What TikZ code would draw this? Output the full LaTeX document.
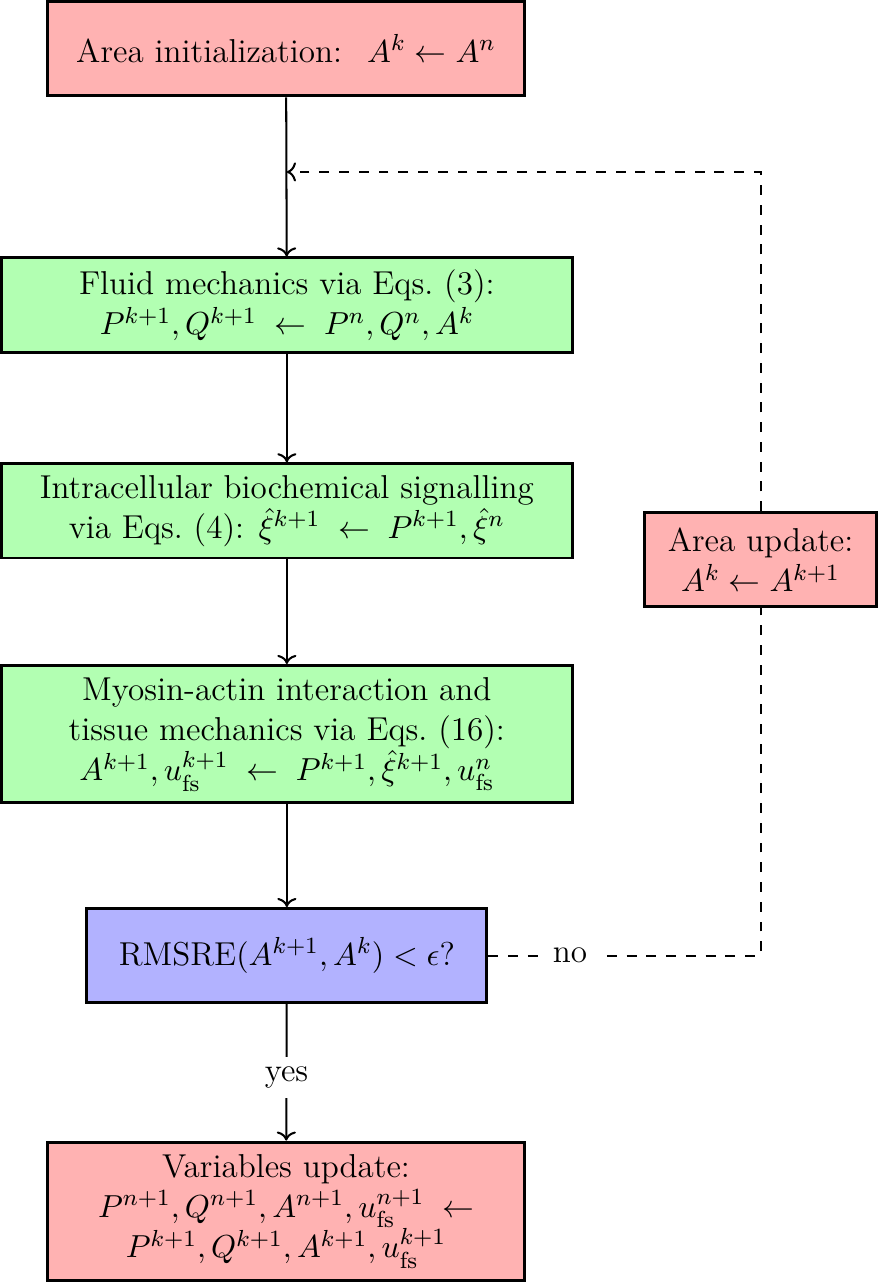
\documentclass[tikz,border=0pt]{standalone}
\usepackage{tikz}
\usetikzlibrary{positioning, arrows.meta, calc}
\usepackage{amsmath}

\begin{document}
\begin{tikzpicture}[
            every node/.append style={font=\fontsize{11.4}{13.9}\selectfont},
            box/.style={rectangle, draw, line width=1pt, align=center,
                        minimum height=1.14cm, inner sep=2pt},
            flow/.style={->, line width=0.7pt},
            loop/.style={line width=0.7pt, dash pattern=on 3.4pt off 3.4pt}
          ]
          \useasboundingbox (0,0) rectangle (10.61,-15.52);
          \node[box, fill=red!30, minimum width=5.78cm] (init) at (3.46,-0.59)
                {Area initialization: \ $A^k \leftarrow A^n$};
          \node[box, fill=green!30, minimum width=6.90cm] (fluid) at (3.47,-3.69)
                {Fluid mechanics via Eqs.~(3):\\
                 $P^{k+1},Q^{k+1} \;\leftarrow\; P^n,Q^n,A^k$};
          \node[box, fill=green!30, minimum width=6.90cm] (signal) at (3.47,-6.18)
                {Intracellular biochemical signalling\\
                 via Eqs.~(4): $\hat{\xi}^{k+1} \;\leftarrow\; P^{k+1},\hat{\xi}^n$};
          \node[box, fill=green!30, minimum width=6.90cm, minimum height=1.66cm]
                (tissue) at (3.47,-8.88)
                {Myosin-actin interaction and\\
                 tissue mechanics via Eqs.~(16):\\
                 $A^{k+1},u_{\mathrm{fs}}^{k+1} \;\leftarrow\;
                  P^{k+1},\hat{\xi}^{k+1},u_{\mathrm{fs}}^n$};
          \node[box, fill=blue!30, minimum width=4.84cm] (check) at (3.47,-11.56)
                {RMSRE$(A^{k+1},A^k) < \epsilon$?};
          \node[box, fill=red!30, minimum width=5.78cm, minimum height=1.67cm]
                (vars) at (3.46,-14.65)
                {Variables update:\\
                 $P^{n+1},Q^{n+1},A^{n+1},u_{\mathrm{fs}}^{n+1} \;\leftarrow$\\
                 $P^{k+1},Q^{k+1},A^{k+1},u_{\mathrm{fs}}^{k+1}$};
          \node[box, fill=red!30, minimum width=2.80cm] (area) at (9.20,-6.77)
                {Area update:\\ $A^k \leftarrow A^{k+1}$};
          \coordinate (join) at (3.47,-2.08);

          % main chain
          \draw[flow] (init) -- (fluid);
          \draw[flow] (fluid) -- (signal);
          \draw[flow] (signal) -- (tissue);
          \draw[flow] (tissue) -- (check);
          \draw[flow] (check) -- node[pos=0.54, fill=white]{yes} (vars);

          % iteration loop
          \draw[loop] (check.east) -| node[pos=0.15, fill=white]{no} (area.south);
          \draw[loop, ->] (area.north) |- (join);
        \end{tikzpicture}
\end{document}
